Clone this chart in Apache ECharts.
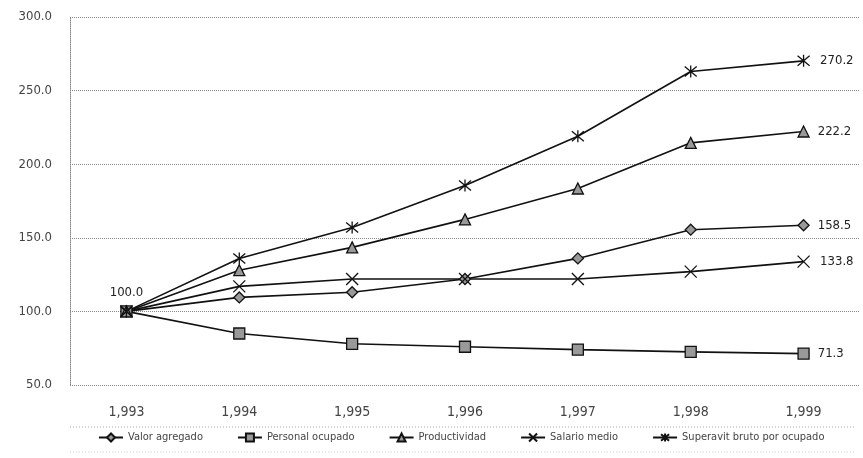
<!DOCTYPE html>
<html><head><meta charset="utf-8">
<script src="https://cdn.jsdelivr.net/npm/echarts@6/dist/echarts.min.js"></script>
<style>html,body{margin:0;padding:0;background:#fff}#c{width:863px;height:458px}</style>
</head><body><div id="c"></div>
<script>
const years = ['1,993','1,994','1,995','1,996','1,997','1,998','1,999'];
const yTicks = [50, 100, 150, 200, 250, 300];
const valorAgregado = [100, 109.5, 113, 122, 136, 155.5, 158.5];
const personalOcupado = [100, 85, 78, 76, 74, 72.5, 71.3];
const productividad = [100, 128, 143.5, 162.5, 183.5, 214.5, 222.2];
const salarioMedio = [100, 117, 122, 122, 122, 127, 133.8];
const superavit = [100, 136, 157, 185.5, 219, 263, 270.2];
const names = ['Valor agregado','Personal ocupado','Productividad','Salario medio','Superavit bruto por ocupado'];

const FONT = '"Liberation Sans Narrow","DejaVu Sans Condensed","Liberation Sans",sans-serif';
const symX = 'path://M0,0L10,10M10,0L0,10';
const symAst = 'path://M0,0L10,10M10,0L0,10M5,-1L5,11';

function mk(name, arr, symbol, size, fill, firstLabel) {
  const n = arr.length;
  return {
    name, type: 'line', data: arr.map((v, i) => {
      const o = { value: v };
      if (i === n - 1) o.label = { show: true, position: 'right', distance: 8 };
      if (i === 0 && firstLabel) o.label = { show: true, position: 'top', distance: 6 };
      return o;
    }),
    symbol, symbolSize: size, showAllSymbol: true,
    lineStyle: { color: '#111', width: 1.6 },
    itemStyle: { color: fill, borderColor: '#111', borderWidth: 1.3 },
    label: { show: false, color: '#222', fontFamily: FONT, fontSize: 13,
      formatter: p => p.value.toFixed(1) },
    z: 3
  };
}

const chart = echarts.init(document.getElementById('c'), null, { renderer: 'canvas' });
chart.setOption({
  animation: false,
  backgroundColor: '#fff',
  grid: { left: 70, right: 3, top: 17, bottom: 73 },
  xAxis: {
    type: 'category', data: years, boundaryGap: true,
    axisLine: { show: false }, axisTick: { show: false },
    axisLabel: { color: '#444', fontFamily: FONT, fontSize: 14, margin: 20 }
  },
  yAxis: {
    type: 'value', min: yTicks[0], max: yTicks[yTicks.length - 1], interval: 50,
    axisLine: { show: true, lineStyle: { color: '#888', type: 'dotted', width: 1 } },
    axisTick: { show: false },
    splitLine: { lineStyle: { color: '#888', type: 'dotted', width: 1 } },
    axisLabel: { color: '#444', fontFamily: FONT, fontSize: 13, margin: 18,
      formatter: v => v.toFixed(1) }
  },
  legend: {
    bottom: 9, left: 93, itemGap: 34, itemWidth: 24, itemHeight: 10,
    textStyle: { color: '#444', fontFamily: FONT, fontSize: 11 },
    data: names
  },
  graphic: [
    { type: 'line', shape: { x1: 70, y1: 427, x2: 855, y2: 427 }, style: { stroke: '#aaa', lineDash: [1, 2], lineWidth: 1 } },
    { type: 'line', shape: { x1: 70, y1: 452, x2: 855, y2: 452 }, style: { stroke: '#ccc', lineDash: [1, 2], lineWidth: 1 } }
  ],
  series: [
    mk(names[0], valorAgregado, 'diamond', 11, '#999', false),
    mk(names[1], personalOcupado, 'rect', 11, '#999', true),
    mk(names[2], productividad, 'triangle', 11, '#999', false),
    mk(names[3], salarioMedio, symX, 12, 'none', false),
    mk(names[4], superavit, symAst, 12, 'none', false)
  ]
});
</script></body></html>
